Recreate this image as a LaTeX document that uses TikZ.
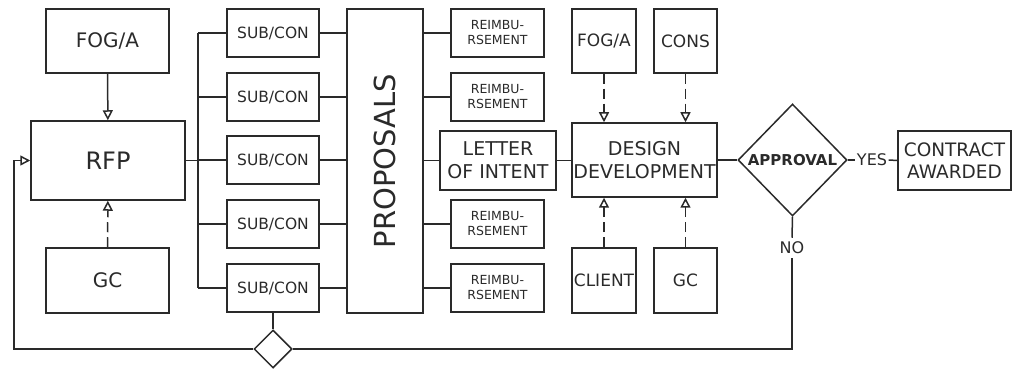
\documentclass[tikz,border=0pt]{standalone}
\usepackage{fontspec}
\setmainfont{DejaVu Sans}
\usetikzlibrary{arrows.meta,shapes.geometric}
\definecolor{ink}{HTML}{2A2A2A}
\newcommand{\fsz}[2]{\fontsize{#1}{#2}\selectfont}

\begin{document}
\begin{tikzpicture}[x=1pt,y=-1pt,
    box/.style={draw=ink,line width=1.5pt,inner sep=0pt,align=center,text=ink},
    subbox/.style={box,minimum width=92pt,minimum height=48pt,font=\fsz{15.5}{18}},
    reimbox/.style={box,minimum width=93pt,minimum height=48pt,font=\fsz{12.5}{15}},
    link/.style={draw=ink,line width=1.5pt},
    tip/.style={-{Triangle[open,length=10pt,width=10pt]}},
    dashlink/.style={link,tip,dash pattern=on 10pt off 5pt}]
  \useasboundingbox (0,0) rectangle (1014,371);

  % request side
  \node[box,minimum width=123pt,minimum height=64pt,font=\fsz{20}{24}] (fogL) at (107.5,41) {FOG/A};
  \node[box,minimum width=154pt,minimum height=79pt,font=\fsz{24}{28}] (rfp) at (108,160.5) {RFP};
  \node[box,minimum width=123pt,minimum height=65pt,font=\fsz{20}{24}] (gcL) at (107.5,280.5) {GC};
  \draw[link,tip] (fogL) -- (rfp);
  \draw[dashlink] (gcL) -- (rfp);

  % bids
  \node[box,minimum width=76pt,minimum height=304pt] (prop) at (385,161) {};
  \node[rotate=90,text=ink,font=\fsz{29}{34}] (propText) at (prop) {PROPOSALS};
  \coordinate (bus1) at (198,33);
  \coordinate (bus5) at (198,288);
  \draw[link] (bus1) -- (bus5);
  \draw[link] (rfp.east) -- (rfp.east -| bus1);
  \foreach \i/\y in {1/33,2/97,3/160,4/224,5/288}{
    \node[subbox] (sub\i) at (273,\y) {SUB/CON};
    \draw[link] (sub\i.west) -- (sub\i.west -| bus1);
    \draw[link] (sub\i.east) -- (sub\i.east -| prop.west);
  }
  \foreach \i/\y in {1/33,2/97,4/224,5/288}{
    \node[reimbox] (reim\i) at (497.5,\y) {REIMBU-\\RSEMENT};
    \draw[link] (prop.east |- reim\i.west) -- (reim\i.west);
  }
  \node[box,minimum width=116pt,minimum height=59pt,font=\fsz{19}{23}] (loi) at (498,160.5) {LETTER\\OF INTENT};
  \draw[link] (prop.east |- loi.west) -- (loi.west);

  % design
  \node[box,minimum width=145pt,minimum height=74pt,font=\fsz{19}{23}] (dd) at (644.5,160) {DESIGN\\DEVELOPMENT};
  \node[box,minimum width=64pt,minimum height=64pt,font=\fsz{17}{20}] (fogR) at (604,41) {FOG/A};
  \node[box,minimum width=63pt,minimum height=64pt,font=\fsz{17}{20}] (cons) at (685.5,41) {CONS};
  \node[box,minimum width=64pt,minimum height=65pt,font=\fsz{17}{20}] (client) at (604,280.5) {CLIENT};
  \node[box,minimum width=63pt,minimum height=65pt,font=\fsz{17}{20}] (gcR) at (685.5,280.5) {GC};
  \draw[link] (loi.east) -- (loi.east -| dd.west);
  \draw[dashlink] (fogR.south) -- (fogR.south |- dd.north);
  \draw[dashlink] (cons.south) -- (cons.south |- dd.north);
  \draw[dashlink] (client.north) -- (client.north |- dd.south);
  \draw[dashlink] (gcR.north) -- (gcR.north |- dd.south);

  % decision
  \node[box,diamond,minimum width=109pt,minimum height=112pt,font=\bfseries\fsz{15}{18}] (appr) at (792.5,160) {APPROVAL};
  \node[text=ink,inner sep=1.5pt,font=\fsz{16}{19}] (yes) at (872,160) {YES};
  \node[box,minimum width=113pt,minimum height=59pt,font=\fsz{18.5}{22}] (award) at (954.5,160.5) {CONTRACT\\AWARDED};
  \node[text=ink,inner sep=4pt,font=\fsz{16}{19}] (no) at (792,248) {NO};
  \node[box,diamond,minimum width=38pt,minimum height=38pt] (sdia) at (273,349) {};
  \coordinate (fb) at (14,349);
  \draw[link] (dd.east) -- (appr.west);
  \draw[link] (appr.east) -- (yes.west);
  \draw[link] (yes.east) -- (award.west);
  \draw[link] (appr.south) -- (no.north);
  \draw[link] (no.south) |- (sdia.east);
  \draw[link] (sub5.south) -- (sdia.north);
  \draw[link,tip] (sdia.west) -- (fb) |- (rfp.west);
\end{tikzpicture}
\end{document}
